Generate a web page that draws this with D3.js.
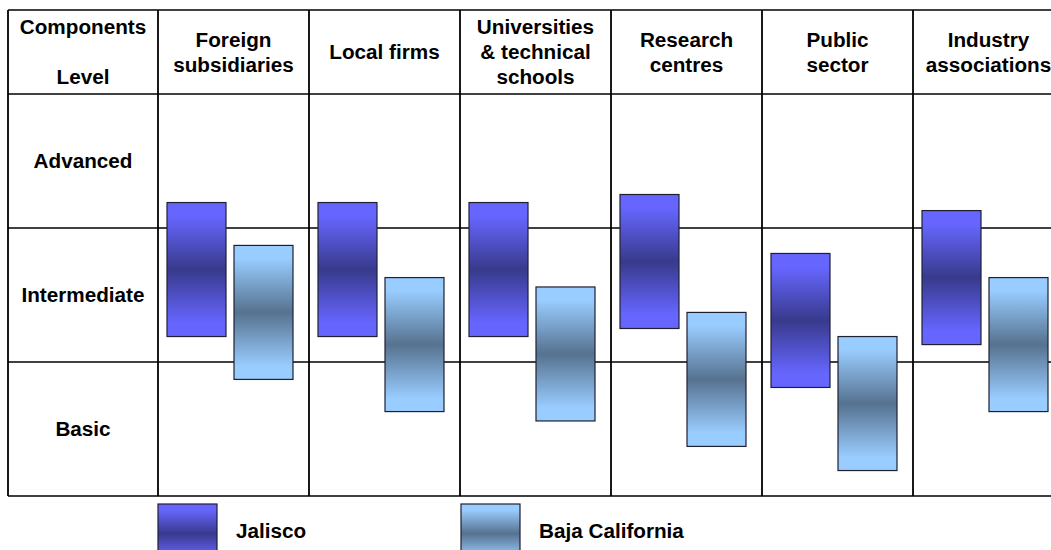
<!DOCTYPE html>
<html>
<head>
<meta charset="utf-8">
<script src="https://cdn.jsdelivr.net/npm/d3@7"></script>
<style>
  html, body { margin: 0; padding: 0; background: #fff; }
  svg { display: block; }
  text { font-family: "Liberation Sans", Arial, Helvetica, sans-serif; font-weight: bold; fill: #000; }
</style>
</head>
<body>
<svg id="chart" width="1051" height="550"></svg>
<script>
// Innovation components and their capability level ranges
const categories = [
  ["Foreign", "subsidiaries"],
  ["Local firms"],
  ["Universities", "& technical", "schools"],
  ["Research", "centres"],
  ["Public", "sector"],
  ["Industry", "associations"]
];
const levels = ["Basic", "Intermediate", "Advanced"];
const series = ["Jalisco", "Baja California"];

// Range of each bar on the level scale (0 = bottom of Basic, 3 = top of Advanced)
const jaliscoLow  = [1.19, 1.19, 1.19, 1.25, 0.81, 1.13];
const jaliscoHigh = [2.19, 2.19, 2.19, 2.25, 1.81, 2.13];
const bajaLow     = [0.87, 0.63, 0.56, 0.37, 0.19, 0.63];
const bajaHigh    = [1.87, 1.63, 1.56, 1.37, 1.19, 1.63];

const svg = d3.select("#chart");
const tableLeft = 8, tableTop = 10, headerBottom = 94, labelColRight = 158, colWidth = 151;
const fontSize = 20.7;

const catKeys = categories.map((d, i) => i);
const x = d3.scaleBand()
  .domain(catKeys)
  .range([labelColRight, labelColRight + colWidth * categories.length])
  .padding(0);
const xs = d3.scaleBand()
  .domain(series)
  .range([0, x.bandwidth()])
  .paddingInner(0.1194)
  .paddingOuter(0.1866)
  .align(0.36);
const y = d3.scaleLinear().domain([0, 3]).range([496, headerBottom]);

// Gradients: light at the edges, dark through the middle
const defs = svg.append("defs");
const gradColors = {
  "Jalisco": ["#6666ff", "#383a8c"],
  "Baja California": ["#99ccff", "#56728f"]
};
series.forEach((s, i) => {
  const g = defs.append("linearGradient")
    .attr("id", "grad" + i)
    .attr("x1", 0).attr("y1", 0).attr("x2", 0).attr("y2", 1);
  const [light, dark] = gradColors[s];
  [[0, light], [0.1, light], [0.5, dark], [0.9, light], [1, light]].forEach(([o, c]) =>
    g.append("stop").attr("offset", o).attr("stop-color", c));
});

// Grid lines of the table
const right = x.range()[1];
const grid = svg.append("g").attr("stroke", "#000").attr("fill", "none");
[tableTop, headerBottom, y(2), y(1), y(0)].forEach(v =>
  grid.append("line").attr("x1", tableLeft).attr("x2", right)
    .attr("y1", v).attr("y2", v).attr("stroke-width", 1.5));
[tableLeft, ...catKeys.map(k => x(k))].forEach(v =>
  grid.append("line").attr("x1", v).attr("x2", v)
    .attr("y1", tableTop).attr("y2", y(0)).attr("stroke-width", 1.8));

// Header cells
const labelCx = (tableLeft + labelColRight) / 2;
svg.append("text").attr("x", labelCx).attr("y", 34).attr("text-anchor", "middle")
  .attr("font-size", fontSize).text("Components");
svg.append("text").attr("x", labelCx).attr("y", 84).attr("text-anchor", "middle")
  .attr("font-size", fontSize).text("Level");

const headerMid = (tableTop + headerBottom) / 2;
const lineH = 25;
categories.forEach((lines, i) => {
  const t = svg.append("text")
    .attr("x", x(i) + x.bandwidth() / 2)
    .attr("text-anchor", "middle")
    .attr("font-size", fontSize);
  const first = headerMid + 7 - (lines.length - 1) * lineH / 2;
  lines.forEach((ln, j) =>
    t.append("tspan").attr("x", x(i) + x.bandwidth() / 2).attr("y", first + j * lineH).text(ln));
});

// Level labels
levels.forEach((lv, i) => {
  svg.append("text")
    .attr("x", labelCx)
    .attr("y", (y(i) + y(i + 1)) / 2 + 7)
    .attr("text-anchor", "middle")
    .attr("font-size", fontSize)
    .text(lv);
});

// Bars
const seriesData = [
  { name: "Jalisco", low: jaliscoLow, high: jaliscoHigh },
  { name: "Baja California", low: bajaLow, high: bajaHigh }
];
seriesData.forEach((sd, si) => {
  svg.append("g").selectAll("rect")
    .data(catKeys)
    .join("rect")
    .attr("x", k => x(k) + xs(sd.name))
    .attr("width", xs.bandwidth())
    .attr("y", k => y(sd.high[k]))
    .attr("height", k => y(sd.low[k]) - y(sd.high[k]))
    .attr("fill", `url(#grad${si})`)
    .attr("stroke", "#1e2030")
    .attr("stroke-width", 1.2);
});

// Legend
const legendX = [158, 461];
series.forEach((s, i) => {
  svg.append("rect")
    .attr("x", legendX[i]).attr("y", 504)
    .attr("width", xs.bandwidth()).attr("height", xs.bandwidth())
    .attr("fill", `url(#grad${i})`)
    .attr("stroke", "#1e2030").attr("stroke-width", 1.2);
  svg.append("text")
    .attr("x", legendX[i] + 78).attr("y", 538)
    .attr("font-size", fontSize)
    .text(s);
});
</script>
</body>
</html>
